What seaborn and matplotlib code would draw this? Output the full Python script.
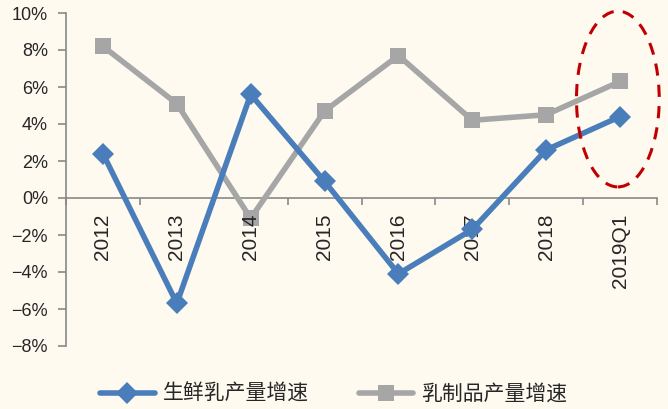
import matplotlib
matplotlib.use("Agg")
import matplotlib.pyplot as plt
import seaborn as sns
import pandas as pd
from matplotlib.patches import Ellipse
from matplotlib.ticker import FuncFormatter, FixedLocator

categories = ["2012", "2013", "2014", "2015", "2016", "2017", "2018", "2019Q1"]
raw_milk = [2.4, -5.7, 5.6, 0.9, -4.1, -1.7, 2.6, 4.4]
dairy = [8.2, 5.1, -1.1, 4.7, 7.7, 4.2, 4.5, 6.3]
series_names = ["生鲜乳产量增速", "乳制品产量增速"]
yticks = [-8, -6, -4, -2, 0, 2, 4, 6, 8, 10]

sns.set_theme(style="white")
plt.rcParams['font.family'] = ['Liberation Sans', 'Noto Sans CJK SC', 'DejaVu Sans']
plt.rcParams['axes.unicode_minus'] = True

bg = "#FEFAF0"
fig = plt.figure(figsize=(6.68, 4.09), dpi=100, facecolor=bg)
ax = fig.add_axes([66/668, 1-346/409, (657-66)/668, (346-13)/409])
ax.set_facecolor(bg)

df = pd.DataFrame({
    "x": list(range(len(categories))) * 2,
    "v": raw_milk + dairy,
    "s": [series_names[0]] * len(categories) + [series_names[1]] * len(categories),
})

blue = "#4A7EBB"
gray = "#A6A6A6"
sns.lineplot(data=df[df.s == series_names[1]], x="x", y="v", ax=ax, color=gray,
             linewidth=4, marker="s", markersize=12, markeredgewidth=0,
             label=series_names[1], legend=False, zorder=2)
sns.lineplot(data=df[df.s == series_names[0]], x="x", y="v", ax=ax, color=blue,
             linewidth=4, marker="D", markersize=11, markeredgewidth=0,
             label=series_names[0], legend=False, zorder=4)

ax.set_xlim(-0.5, len(categories) - 0.5)
ax.set_ylim(-8, 10)
ax.set_yticks(yticks)
ax.yaxis.set_major_formatter(FuncFormatter(lambda v, p: f"{int(v)}%".replace("-", "\u2212")))
ax.set_xticks(range(len(categories)))
ax.set_xticklabels(categories)
ax.xaxis.set_minor_locator(FixedLocator([i - 0.5 for i in range(len(categories) + 1)]))
ax.tick_params(axis="x", which="major", length=0, pad=11, labelrotation=90, labelsize=15, bottom=True)
ax.tick_params(axis="x", which="minor", length=5, color="#888888", width=1.2, direction="out", bottom=True)
ax.tick_params(axis="y", length=6, color="#888888", width=1.2, direction="out", labelsize=13, pad=7, left=True)
for lbl in ax.get_xticklabels():
    lbl.set_verticalalignment("top")
    lbl.set_horizontalalignment("center")
ax.xaxis.set_zorder(3)
ax.set_xlabel("")
ax.set_ylabel("")

for s in ["top", "right"]:
    ax.spines[s].set_visible(False)
ax.spines["bottom"].set_position(("data", 0))
for s in ["left", "bottom"]:
    ax.spines[s].set_color("#888888")
    ax.spines[s].set_linewidth(1.2)
ax.spines["bottom"].set_zorder(1.5)

ell = Ellipse((6.97, 5.35), width=1.12, height=9.5, fill=False,
              edgecolor="#C00000", linestyle=(0, (4, 3)), linewidth=2.2, zorder=5, clip_on=False)
ax.add_patch(ell)

handles, labels = ax.get_legend_handles_labels()
order = [labels.index(series_names[0]), labels.index(series_names[1])]
leg = fig.legend([handles[i] for i in order], [labels[i] for i in order],
                 loc="center", bbox_to_anchor=(0.5, 1 - 394/409), ncol=2, frameon=False,
                 prop={"family": ["Noto Sans CJK SC"], "size": 15}, handlelength=2.6,
                 columnspacing=2.4, handletextpad=0.4)

fig.savefig("out.png", dpi=100, facecolor=bg)
